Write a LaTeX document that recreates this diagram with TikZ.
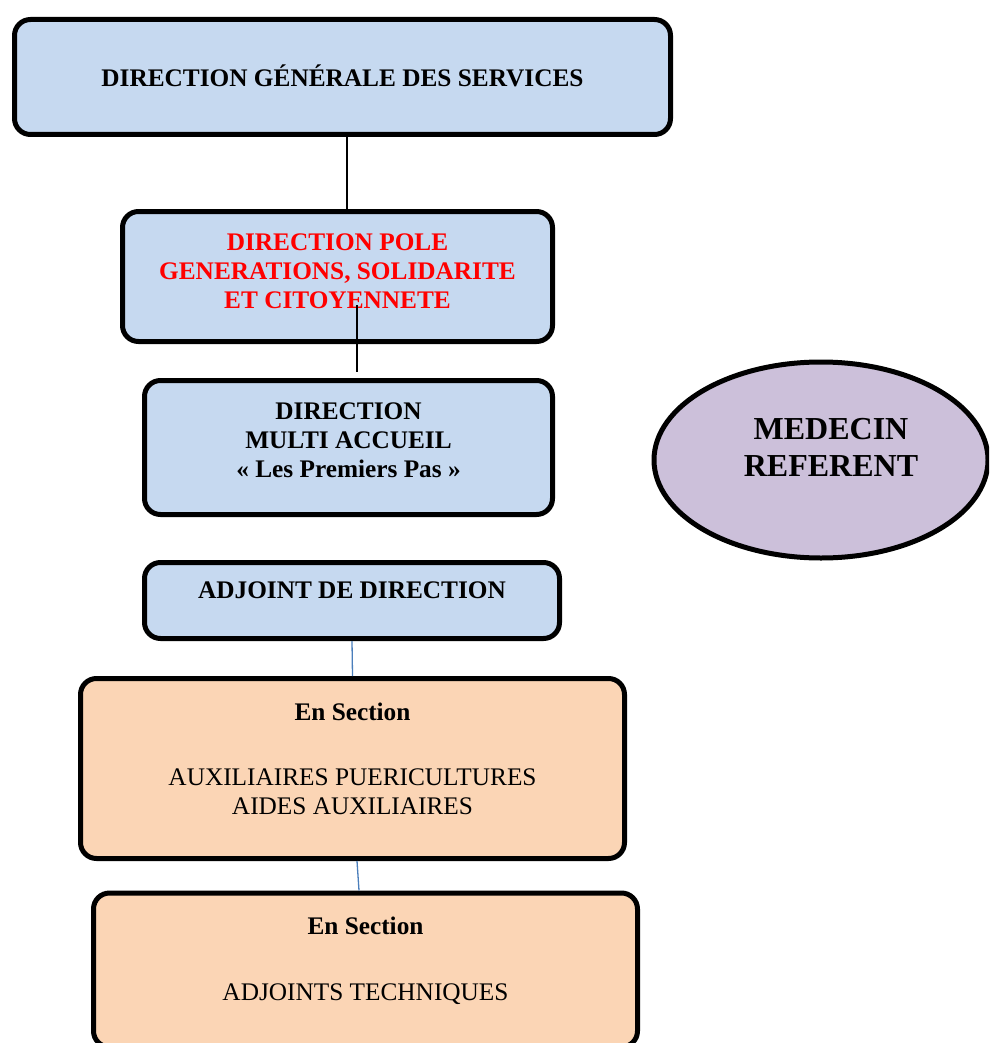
\documentclass[tikz,border=0pt]{standalone}
\usepackage{fontspec}
\setmainfont{Liberation Serif}
\usetikzlibrary{shapes.geometric}
\definecolor{fondbleu}{RGB}{198,217,240}
\definecolor{fondorange}{RGB}{251,213,181}
\definecolor{fondmauve}{RGB}{204,192,218}
\definecolor{traitbleu}{RGB}{74,126,187}
\newcommand{\lift}[1]{\rule[-#1]{0pt}{#1}}

\begin{document}
\begin{tikzpicture}[x=1pt,y=-1pt,
  cadre/.style={draw=black,line width=5pt,rounded corners=16pt,fill=fondbleu,
    align=center,inner sep=0pt,font=\fontsize{25.3}{29}\selectfont},
  section/.style={cadre,fill=fondorange},
  lien/.style={line width=1.3pt},
  lienbleu/.style={draw=traitbleu,line width=1.3pt}]
\useasboundingbox (0,0) rectangle (989,1043);
\clip (0,0) rectangle (989,1043);

\node[cadre,minimum width=656,minimum height=115] (dgs) at (342.5,77)
  {\bfseries DIRECTION GÉNÉRALE DES SERVICES\lift{2pt}};
\node[cadre,minimum width=430,minimum height=130,text=red] (pole) at (337.5,276.5)
  {\bfseries DIRECTION POLE\\\bfseries GENERATIONS, SOLIDARITE\\\bfseries ET CITOYENNETE\lift{10pt}};
\node[cadre,minimum width=408,minimum height=134] (multi) at (348.5,447.5)
  {\bfseries DIRECTION\\\bfseries MULTI ACCUEIL\\\bfseries « Les Premiers Pas »\lift{14pt}};
\node[cadre,minimum width=415,minimum height=76] (adjoint) at (352,600.5)
  {\bfseries ADJOINT DE DIRECTION\lift{20pt}};

\node[draw=black,line width=5pt,ellipse,fill=fondmauve,inner sep=0pt,
  minimum width=334,minimum height=196,align=center,
  font=\bfseries\fontsize{32}{37}\selectfont] (medecin) at (821,460)
  {\hspace*{20pt}MEDECIN\\\hspace*{20pt}REFERENT\lift{26pt}};

\node[section,minimum width=544,minimum height=180] (auxiliaires) at (352.5,768.5)
  {\bfseries En Section\\[36pt]AUXILIAIRES PUERICULTURES\\AIDES AUXILIAIRES\lift{20pt}};
\node[section,minimum width=544,minimum height=154] (techniques) at (365.5,970)
  {\bfseries En Section\\[37pt]ADJOINTS TECHNIQUES\lift{22pt}};

\draw[lien] ([xshift=4.5pt]dgs.south) -- ([xshift=9.5pt]pole.north);
\coordinate (depart) at ([xshift=19.5pt,yshift=-28.5pt]pole.center);
\draw[lien] (depart) -- ([xshift=8.5pt,yshift=6pt]multi.north);
\draw[lienbleu] (adjoint.south) -- (auxiliaires.north);
\draw[lienbleu] ([xshift=4.5pt]auxiliaires.south) -- ([xshift=-6.5pt]techniques.north);
\end{tikzpicture}
\end{document}
